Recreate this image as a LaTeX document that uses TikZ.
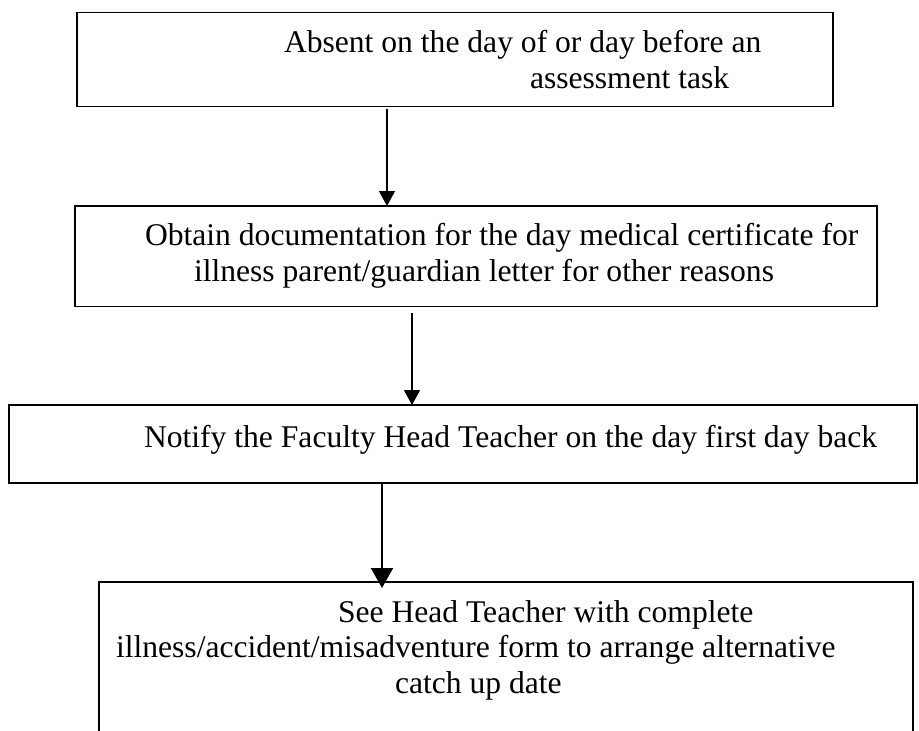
\documentclass[tikz,border=0pt]{standalone}
\usepackage{fontspec}
\setmainfont{Liberation Serif}
\usetikzlibrary{arrows.meta}
\begin{document}
\begin{tikzpicture}[x=1pt,y=-1pt,
  box/.style={draw,line width=1.4pt,rectangle,inner sep=0pt,outer sep=0pt,anchor=north west},
  txt/.style={inner sep=0pt,outer sep=0pt,anchor=base west,font=\fontsize{31.6}{35.7}\selectfont},
  arr/.style={line width=1.3pt,-{Triangle[width=16pt,length=15pt]}},
  arrthick/.style={line width=2pt,-{Triangle[width=22pt,length=20pt]}}]
\useasboundingbox (0,0) rectangle (919,731);
% boxes
\node[box,minimum width=756pt,minimum height=94pt] (b1) at (77,12.5) {};
\node[box,minimum width=802pt,minimum height=100.5pt] (b2) at (75,206) {};
\node[box,minimum width=908pt,minimum height=78pt] (b3) at (9,405) {};
\node[box,minimum width=814pt,minimum height=170pt] (b4) at (99,582) {};
% texts
\node[txt] (t1a) at (284,52) {Absent on the day of or day before an};
\node[txt] (t1b) at (530,88) {assessment task};
\node[txt] (t2a) at (145,245) {Obtain documentation for the day medical certificate for};
\node[txt] (t2b) at (194,281) {illness parent/guardian letter for other reasons};
\node[txt] (t3a) at (144,447) {Notify the Faculty Head Teacher on the day first day back};
\node[txt] (t4a) at (338,622) {See Head Teacher with complete};
\node[txt] (t4b) at (116,657) {illness/accident/misadventure form to arrange alternative};
\node[txt] (t4c) at (395,693) {catch up date};
% connectors
\coordinate (s1) at (387,109);
\coordinate (s2) at (412,313);
\coordinate (s3) at (382,483);
\draw[arr] (s1) -- (s1 |- b2.north);
\draw[arr] (s2) -- (s2 |- b3.north);
\draw[arrthick] (s3) -- ([yshift=-6pt]s3 |- b4.north);
\end{tikzpicture}
\end{document}
